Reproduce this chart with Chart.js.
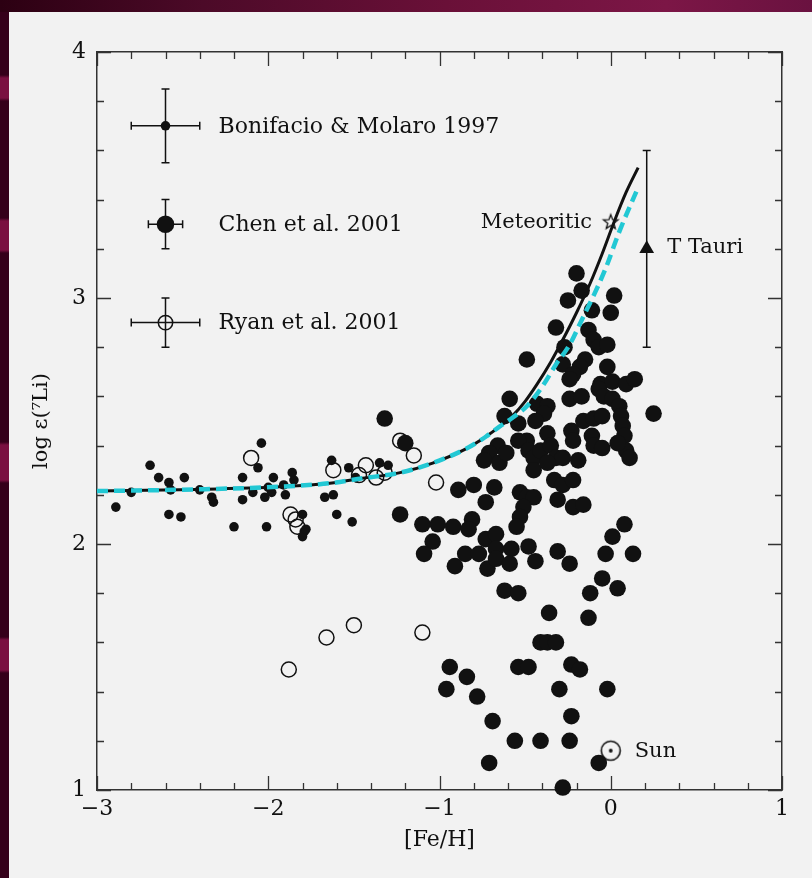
<!DOCTYPE html>
<html>
<head>
<meta charset="utf-8">
<title>Li abundance vs [Fe/H]</title>
<script src="https://cdn.jsdelivr.net/npm/chart.js@4.4.1/dist/chart.umd.min.js"></script>
<style>
  html, body { margin: 0; padding: 0; }
  body { width: 812px; height: 878px; position: relative; overflow: hidden; background: #35001a; }
  #topband { position: absolute; left: 0; top: 0; width: 812px; height: 12px;
    background: linear-gradient(90deg, #2c0012 0%, #4c0a28 25%, #6a1038 55%, #7c1646 82%, #6a1240 100%); }
  #leftband { position: absolute; left: 0; top: 12px; width: 9px; height: 866px;
    background: linear-gradient(to bottom, #35001a 0, #35001a 63px, #7a1040 66px, #7a1040 86px, #35001a 89px,
      #35001a 206px, #7a1040 209px, #7a1040 238px, #35001a 241px,
      #35001a 430px, #7a1040 433px, #7a1040 468px, #35001a 471px,
      #35001a 625px, #7a1040 628px, #7a1040 658px, #35001a 661px, #35001a 100%); }
  #panel { position: absolute; left: 9px; top: 12px; width: 803px; height: 866px; background: #f2f2f2; }
  canvas { position: absolute; left: 0; top: 0; }
</style>
</head>
<body>
<div id="topband"></div>
<div id="leftband"></div>
<div id="panel"></div>
<canvas id="chart" width="812" height="878"></canvas>
<script>
// axis ranges and tick labels
const xRange = [-3, 1];
const yRange = [1, 4];
const xTickValues = [-3, -2, -1, 0, 1];
const yTickValues = [1, 2, 3, 4];
const minorStep = 0.2;

// Bonifacio & Molaro 1997 (small dots)
const bmX = [-2.89, -2.80, -2.69, -2.64, -2.58, -2.57, -2.58, -2.51, -2.49, -2.40, -2.33, -2.32, -2.20, -2.15,
  -2.15, -2.09, -2.06, -2.04, -2.02, -2.01, -2.00, -1.98, -1.97, -1.91, -1.90, -1.86, -1.85, -1.80, -1.79,
  -1.80, -1.78, -1.67, -1.62, -1.63, -1.60, -1.53, -1.51, -1.49, -1.35, -1.30];
const bmY = [2.15, 2.21, 2.32, 2.27, 2.25, 2.22, 2.12, 2.11, 2.27, 2.22, 2.19, 2.17, 2.07, 2.27,
  2.18, 2.21, 2.31, 2.41, 2.19, 2.07, 2.23, 2.21, 2.27, 2.24, 2.20, 2.29, 2.26, 2.12, 2.05,
  2.03, 2.06, 2.19, 2.20, 2.34, 2.12, 2.31, 2.09, 2.27, 2.33, 2.32];

// Chen et al. 2001 (large dots)
const chenX = [-1.32, -1.23, -1.20, -1.10, -1.01, -1.04, -1.09, -0.92, -0.91, -0.89,
  -0.20, -0.17, -0.25, -0.11, 0.02, 0.00, -0.32, -0.13, -0.10, -0.07, -0.02, -0.27, -0.28, -0.49, -0.15,
  -0.18, -0.22, -0.24, -0.02, -0.06, 0.01, 0.09, 0.14, -0.07, -0.04, 0.01, 0.05, 0.06, 0.07, 0.08,
  0.09, 0.11, 0.25, -0.24, -0.17, -0.59, -0.62, -0.54, -0.43, -0.37, -0.39, -0.44, -0.16, -0.10, -0.05,
  -0.23, -0.22, -0.11, -0.10, -0.05, 0.04, -0.37, -0.49, -0.54, -0.66, -0.71, -0.74, -0.65, -0.61, -0.48,
  -0.45, -0.41, -0.35, -0.32, -0.28, -0.19, -0.45, -0.37, -0.33, -0.28, -0.22, -0.31, -0.22, -0.16, -0.53,
  -0.49, -0.45, -0.51, -0.53, -0.55, -0.68, -0.80, -0.73, -0.81, -0.83, -0.73, -0.67, 0.08, 0.01, -0.85,
  -0.77, -0.72, -0.67, -0.67, -0.58, -0.59, -0.48, -0.44, -0.31, -0.24, -0.03, 0.13, -0.05, 0.04, -0.12,
  -0.13, -0.62, -0.54, -0.36, -0.41, -0.37, -0.32, -0.54, -0.48, -0.23, -0.18, -0.94, -0.84, -0.96, -0.78,
  -0.30, -0.02, -0.69, -0.23, -0.56, -0.41, -0.24, -0.71, -0.07, -0.28];
const chenY = [2.51, 2.12, 2.41, 2.08, 2.08, 2.01, 1.96, 2.07, 1.91, 2.22,
  3.10, 3.03, 2.99, 2.95, 3.01, 2.94, 2.88, 2.87, 2.83, 2.80, 2.81, 2.80, 2.73, 2.75, 2.75,
  2.72, 2.69, 2.67, 2.72, 2.65, 2.66, 2.65, 2.67, 2.63, 2.60, 2.59, 2.56, 2.52, 2.48, 2.44,
  2.38, 2.35, 2.53, 2.59, 2.60, 2.59, 2.52, 2.49, 2.57, 2.56, 2.53, 2.50, 2.50, 2.51, 2.52,
  2.46, 2.42, 2.44, 2.40, 2.39, 2.41, 2.45, 2.42, 2.42, 2.40, 2.37, 2.34, 2.33, 2.37, 2.38,
  2.35, 2.38, 2.40, 2.35, 2.35, 2.34, 2.30, 2.33, 2.26, 2.24, 2.26, 2.18, 2.15, 2.16, 2.21,
  2.19, 2.19, 2.15, 2.11, 2.07, 2.23, 2.24, 2.17, 2.10, 2.06, 2.02, 2.04, 2.08, 2.03, 1.96,
  1.96, 1.90, 1.98, 1.94, 1.98, 1.92, 1.99, 1.93, 1.97, 1.92, 1.96, 1.96, 1.86, 1.82, 1.80,
  1.70, 1.81, 1.80, 1.72, 1.60, 1.60, 1.60, 1.50, 1.50, 1.51, 1.49, 1.50, 1.46, 1.41, 1.38,
  1.41, 1.41, 1.28, 1.30, 1.20, 1.20, 1.20, 1.11, 1.11, 1.01];

// Ryan et al. 2001 (open circles)
const ryanX = [-2.10, -1.87, -1.84, -1.83, -1.62, -1.47, -1.43, -1.37, -1.32, -1.23, -1.15, -1.02,
  -1.88, -1.66, -1.50, -1.10];
const ryanY = [2.35, 2.12, 2.10, 2.07, 2.30, 2.28, 2.32, 2.27, 2.29, 2.42, 2.36, 2.25,
  1.49, 1.62, 1.67, 1.64];

// model curves
const blackX = [-3.0, -2.42, -1.93, -1.64, -1.45, -1.23, -1.04, -0.84, -0.73, -0.65, -0.57, -0.50, -0.43,
  -0.35, -0.28, -0.20, -0.12, -0.05, 0.02, 0.09, 0.16];
const blackY = [2.215, 2.222, 2.233, 2.247, 2.267, 2.290, 2.329, 2.389, 2.436, 2.477, 2.524, 2.58, 2.65,
  2.74, 2.83, 2.94, 3.06, 3.18, 3.31, 3.43, 3.53];
const cyanX = [-3.0, -2.42, -1.93, -1.64, -1.45, -1.23, -1.04, -0.84, -0.73, -0.65, -0.57, -0.49, -0.40,
  -0.32, -0.24, -0.17, -0.10, -0.03, 0.05, 0.16];
const cyanY = [2.215, 2.222, 2.233, 2.247, 2.267, 2.290, 2.329, 2.389, 2.436, 2.477, 2.515, 2.56, 2.64,
  2.73, 2.81, 2.91, 3.01, 3.12, 3.27, 3.45];

// key with typical error bars
const keyLabels = ['Bonifacio & Molaro 1997', 'Chen et al. 2001', 'Ryan et al. 2001'];
const keyX = -2.60;
const keyY = [3.70, 3.30, 2.90];
const keyErrX = [0.2, 0.1, 0.2];
const keyErrY = [0.15, 0.1, 0.1];
const keyLabelX = -2.29;

// single reference points
const meteoriticX = [0.0], meteoriticY = [3.31];
const tTauriX = [0.21], tTauriY = [3.2], tTauriErr = [0.4];
const sunX = [0.0], sunY = [1.16];
const noteText = ['Meteoritic', 'T Tauri', 'Sun'];
const noteX = [-0.11, 0.33, 0.14];
const noteY = [3.31, 3.21, 1.16];
const noteAlign = ['right', 'left', 'left'];

const ink = '#111';
const serif = "'DejaVu Serif', 'Liberation Serif', serif";

const pts = (xs, ys) => xs.map((x, i) => ({ x: x, y: ys[i] }));

function starImage() {
  const c = document.createElement('canvas');
  c.width = 20; c.height = 20;
  const g = c.getContext('2d');
  g.beginPath();
  for (let k = 0; k < 10; k++) {
    const r = k % 2 ? 3.2 : 7.6;
    const a = -Math.PI / 2 + k * Math.PI / 5;
    const px = 10 + r * Math.cos(a), py = 10.5 + r * Math.sin(a);
    if (k) g.lineTo(px, py); else g.moveTo(px, py);
  }
  g.closePath();
  g.fillStyle = '#f2f2f2';
  g.fill();
  g.strokeStyle = ink;
  g.lineWidth = 1.3;
  g.stroke();
  return c;
}

function sunImage() {
  const c = document.createElement('canvas');
  c.width = 24; c.height = 24;
  const g = c.getContext('2d');
  g.strokeStyle = ink;
  g.lineWidth = 1.6;
  g.beginPath();
  g.arc(12, 12, 9.5, 0, Math.PI * 2);
  g.stroke();
  g.fillStyle = ink;
  g.beginPath();
  g.arc(12, 12, 1.9, 0, Math.PI * 2);
  g.fill();
  return c;
}

const fmt = v => (v < 0 ? '\u2212' + Math.abs(v) : String(v));

// ticks pointing into the plot on all four sides
const inwardTicks = {
  id: 'inwardTicks',
  beforeDatasetsDraw(chart) {
    const { ctx, chartArea: a, scales: { x, y } } = chart;
    ctx.save();
    ctx.strokeStyle = '#333';
    ctx.lineWidth = 1.3;
    ctx.beginPath();
    const nx = Math.round((x.max - x.min) / minorStep);
    for (let k = 0; k <= nx; k++) {
      const v = x.min + k * minorStep;
      const px = Math.round(x.getPixelForValue(v)) + 0.5;
      const len = Math.abs(v - Math.round(v)) < 1e-6 ? 14 : 7;
      ctx.moveTo(px, a.bottom); ctx.lineTo(px, a.bottom - len);
      ctx.moveTo(px, a.top); ctx.lineTo(px, a.top + len);
    }
    const ny = Math.round((y.max - y.min) / minorStep);
    for (let k = 0; k <= ny; k++) {
      const v = y.min + k * minorStep;
      const py = Math.round(y.getPixelForValue(v)) + 0.5;
      const len = Math.abs(v - Math.round(v)) < 1e-6 ? 14 : 7;
      ctx.moveTo(a.left, py); ctx.lineTo(a.left + len, py);
      ctx.moveTo(a.right, py); ctx.lineTo(a.right - len, py);
    }
    ctx.stroke();
    ctx.restore();
  }
};

// error bars for datasets that carry errX / errY
const errorBars = {
  id: 'errorBars',
  beforeDatasetsDraw(chart) {
    const { ctx, scales: { x, y } } = chart;
    ctx.save();
    ctx.strokeStyle = ink;
    ctx.lineWidth = 1.5;
    chart.data.datasets.forEach(ds => {
      if (!ds.errX && !ds.errY) return;
      ds.data.forEach((p, j) => {
        const cx = x.getPixelForValue(p.x), cy = y.getPixelForValue(p.y);
        ctx.beginPath();
        if (ds.errX) {
          const x0 = x.getPixelForValue(p.x - ds.errX[j]), x1 = x.getPixelForValue(p.x + ds.errX[j]);
          ctx.moveTo(x0, cy); ctx.lineTo(x1, cy);
          ctx.moveTo(x0, cy - 4); ctx.lineTo(x0, cy + 4);
          ctx.moveTo(x1, cy - 4); ctx.lineTo(x1, cy + 4);
        }
        if (ds.errY) {
          const y0 = y.getPixelForValue(p.y - ds.errY[j]), y1 = y.getPixelForValue(p.y + ds.errY[j]);
          ctx.moveTo(cx, y0); ctx.lineTo(cx, y1);
          ctx.moveTo(cx - 4, y0); ctx.lineTo(cx + 4, y0);
          ctx.moveTo(cx - 4, y1); ctx.lineTo(cx + 4, y1);
        }
        ctx.stroke();
      });
    });
    ctx.restore();
  }
};

// key labels and notes
const labels = {
  id: 'labels',
  afterDatasetsDraw(chart) {
    const { ctx, scales: { x, y } } = chart;
    ctx.save();
    ctx.fillStyle = ink;
    ctx.textBaseline = 'middle';
    ctx.font = '22px ' + serif;
    ctx.textAlign = 'left';
    keyLabels.forEach((t, i) => ctx.fillText(t, x.getPixelForValue(keyLabelX), y.getPixelForValue(keyY[i]) + 1));
    ctx.font = '21px ' + serif;
    noteText.forEach((t, i) => {
      ctx.textAlign = noteAlign[i];
      ctx.fillText(t, x.getPixelForValue(noteX[i]), y.getPixelForValue(noteY[i]) + 1);
    });
    ctx.restore();
  }
};

const dotStyle = (r) => ({ pointRadius: r, pointBackgroundColor: ink, pointBorderColor: ink, pointBorderWidth: 0, clip: false });
const ringStyle = (r) => ({ pointRadius: r, pointBackgroundColor: 'rgba(0,0,0,0)', pointBorderColor: ink, pointBorderWidth: 1.5, clip: false });

const hidden = { display: false, drawTicks: false };
const frame = { display: true, color: '#333', width: 1.5 };

new Chart(document.getElementById('chart'), {
  type: 'scatter',
  data: {
    datasets: [
      { label: 'model (dashed)', data: pts(cyanX, cyanY), showLine: true, pointRadius: 0,
        borderColor: '#22c8d4', borderWidth: 4.5, borderDash: [11, 6], cubicInterpolationMode: 'monotone', clip: false },
      { label: 'model', data: pts(blackX, blackY), showLine: true, pointRadius: 0,
        borderColor: ink, borderWidth: 3, cubicInterpolationMode: 'monotone', clip: false },
      { label: 'key Bonifacio', data: [{ x: keyX, y: keyY[0] }], errX: [keyErrX[0]], errY: [keyErrY[0]], ...dotStyle(4.8) },
      { label: 'key Chen', data: [{ x: keyX, y: keyY[1] }], errX: [keyErrX[1]], errY: [keyErrY[1]], ...dotStyle(8.8) },
      { label: 'key Ryan', data: [{ x: keyX, y: keyY[2] }], errX: [keyErrX[2]], errY: [keyErrY[2]], ...ringStyle(7.2) },
      { label: 'Meteoritic', data: pts(meteoriticX, meteoriticY), pointStyle: starImage(), pointRadius: 8, clip: false },
      { label: 'T Tauri', data: pts(tTauriX, tTauriY), errY: tTauriErr, pointStyle: 'triangle',
        pointRadius: 8.5, pointBackgroundColor: ink, pointBorderColor: ink, pointBorderWidth: 0, clip: false },
      { label: 'Sun', data: pts(sunX, sunY), pointStyle: sunImage(), pointRadius: 10, clip: false },
      { label: 'Chen et al. 2001', data: pts(chenX, chenY), ...dotStyle(8.3) },
      { label: 'Bonifacio & Molaro 1997', data: pts(bmX, bmY), ...dotStyle(4.8) },
      { label: 'Ryan et al. 2001', data: pts(ryanX, ryanY), ...ringStyle(7.5) }
    ]
  },
  options: {
    responsive: false,
    devicePixelRatio: 1,
    animation: false,
    events: [],
    layout: { padding: 0 },
    plugins: { legend: { display: false }, tooltip: { enabled: false } },
    scales: {
      x: {
        type: 'linear', position: 'bottom', min: xRange[0], max: xRange[1],
        afterBuildTicks: s => { s.ticks = xTickValues.map(v => ({ value: v })); },
        afterFit: s => { s.height = 88; },
        grid: hidden, border: frame,
        ticks: { font: { family: serif, size: 22 }, color: ink, padding: 6, maxRotation: 0, autoSkip: false, callback: fmt },
        title: { display: true, text: '[Fe/H]', color: ink, font: { family: serif, size: 22 }, padding: { top: 0, bottom: 25 } }
      },
      y: {
        type: 'linear', position: 'left', min: yRange[0], max: yRange[1],
        afterBuildTicks: s => { s.ticks = yTickValues.map(v => ({ value: v })); },
        afterFit: s => { s.width = 97; },
        grid: hidden, border: frame,
        ticks: { font: { family: serif, size: 22 }, color: ink, padding: 11, autoSkip: false, callback: fmt },
        title: { display: true, text: 'log \u03b5(\u2077Li)', color: ink, font: { family: serif, size: 21 }, padding: { top: 29, bottom: 0 } }
      },
      x2: {
        type: 'linear', position: 'top', min: xRange[0], max: xRange[1],
        afterFit: s => { s.height = 52; },
        grid: hidden, border: frame, ticks: { display: false }
      },
      y2: {
        type: 'linear', position: 'right', min: yRange[0], max: yRange[1],
        afterFit: s => { s.width = 30; },
        grid: hidden, border: frame, ticks: { display: false }
      }
    }
  },
  plugins: [inwardTicks, errorBars, labels]
});
</script>
</body>
</html>
